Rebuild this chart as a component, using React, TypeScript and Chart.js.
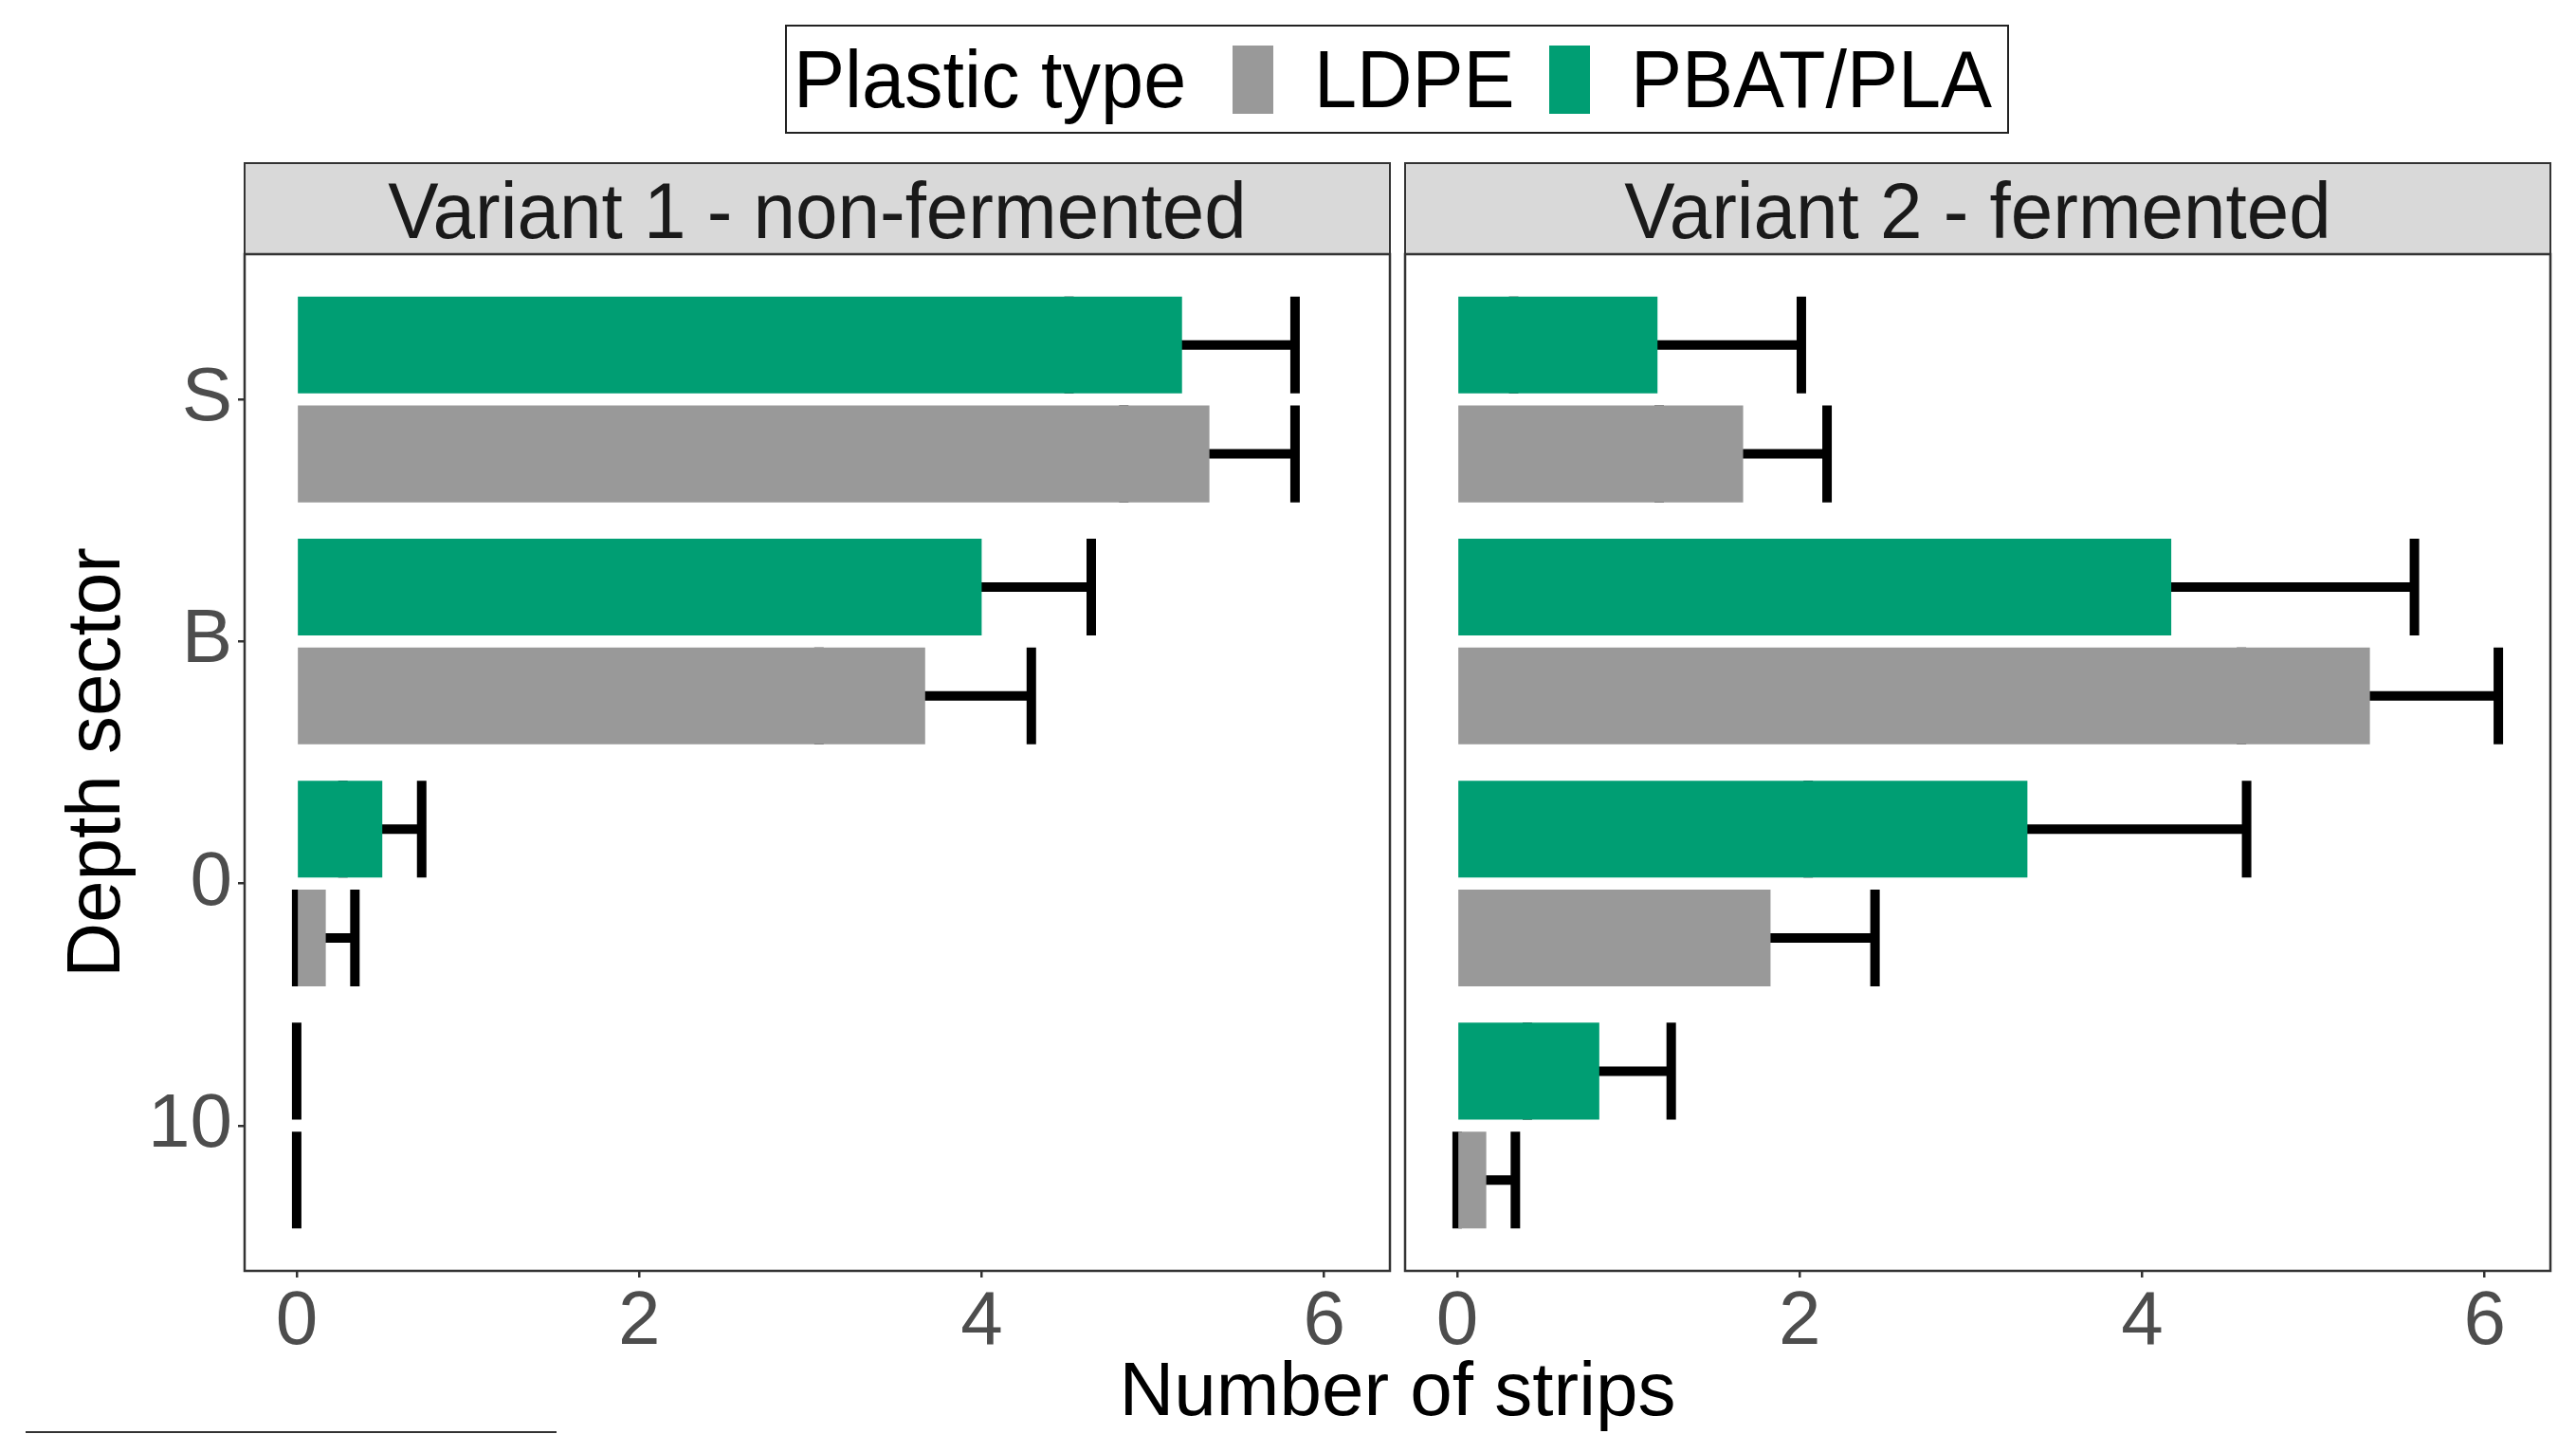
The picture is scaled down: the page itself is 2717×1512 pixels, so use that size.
import React, { useEffect, useRef } from "react";
import { Chart, registerables } from "chart.js";

Chart.register(...registerables);

// ---------- data ----------
const depthSectors = ["S", "B", "0", "10"];
const xTickValues = [0, 2, 4, 6];
const xMin = -0.304;
const xMax = 6.384;

const panelTitles = ["Variant 1 - non-fermented", "Variant 2 - fermented"];
const plasticTypes = ["LDPE", "PBAT/PLA"];

// Variant 1 - non-fermented
const v1PbatMean = [5.17, 4.0, 0.5, 0];
const v1PbatSe = [0.66, 0.64, 0.23, 0];
const v1LdpeMean = [5.33, 3.67, 0.17, 0];
const v1LdpeSe = [0.5, 0.62, 0.17, 0];

// Variant 2 - fermented
const v2PbatMean = [1.17, 4.17, 3.33, 0.83];
const v2PbatSe = [0.84, 1.42, 1.28, 0.42];
const v2LdpeMean = [1.67, 5.33, 1.83, 0.17];
const v2LdpeSe = [0.49, 0.75, 0.61, 0.17];

// ---------- style ----------
const GREEN = "#009E73";
const GRAY = "#999999";
const FONT = "'Liberation Sans', Arial, Helvetica, sans-serif";
const W = 2717;
const H = 1512;
const PLOT_TOP = 268;
const PLOT_BOTTOM = 1340;
const P1 = { left: 258, right: 1466 };
const P2 = { left: 1482, right: 2690 };
const SPLIT = 1474;

Chart.defaults.font.family = FONT;

const errorBarPlugin = {
  id: "errorBars",
  beforeDatasetsDraw(chart: any) {
    const ctx = chart.ctx;
    const xs = chart.scales.x;
    ctx.save();
    ctx.strokeStyle = "#000000";
    ctx.lineWidth = 10;
    ctx.lineCap = "butt";
    chart.data.datasets.forEach((ds: any, i: number) => {
      const meta = chart.getDatasetMeta(i);
      meta.data.forEach((bar: any, j: number) => {
        const p = bar.getProps(["y", "height"], true);
        const m = ds.data[j].x;
        const s = ds.se[j];
        const lo = xs.getPixelForValue(m - s);
        const hi = xs.getPixelForValue(m + s);
        const h2 = p.height / 2;
        ctx.beginPath();
        ctx.moveTo(lo, p.y);
        ctx.lineTo(hi, p.y);
        ctx.moveTo(lo, p.y - h2);
        ctx.lineTo(lo, p.y + h2);
        ctx.moveTo(hi, p.y - h2);
        ctx.lineTo(hi, p.y + h2);
        ctx.stroke();
      });
    });
    ctx.restore();
  },
};

const borderPlugin = {
  id: "panelBorder",
  afterDraw(chart: any) {
    const { ctx, chartArea: a } = chart;
    ctx.save();
    ctx.strokeStyle = "#333333";
    ctx.lineWidth = 2.5;
    ctx.strokeRect(a.left, a.top, a.right - a.left, a.bottom - a.top);
    ctx.restore();
  },
};

type PanelProps = {
  pbat: number[];
  pbatSe: number[];
  ldpe: number[];
  ldpeSe: number[];
  showY: boolean;
  left: number;
  width: number;
  padLeft: number;
  padRight: number;
};

function Panel(props: PanelProps) {
  const ref = useRef<HTMLCanvasElement>(null);
  useEffect(() => {
    if (!ref.current) return;
    const toPts = (arr: number[]) => arr.map((v, i) => ({ x: v, y: i }));
    const chart = new Chart(ref.current, {
      type: "bar",
      data: {
        datasets: [
          {
            label: plasticTypes[1],
            data: toPts(props.pbat),
            se: props.pbatSe,
            backgroundColor: GREEN,
            borderWidth: 0,
          } as any,
          {
            label: plasticTypes[0],
            data: toPts(props.ldpe),
            se: props.ldpeSe,
            backgroundColor: GRAY,
            borderWidth: 0,
          } as any,
        ],
      },
      options: {
        indexAxis: "y",
        responsive: false,
        animation: false,
        events: [],
        categoryPercentage: 0.9,
        barPercentage: 0.889,
        layout: {
          padding: { top: PLOT_TOP, bottom: 0, left: props.padLeft, right: props.padRight },
        },
        plugins: {
          legend: { display: false },
          tooltip: { enabled: false },
          title: { display: false },
        },
        scales: {
          x: {
            type: "linear",
            min: xMin,
            max: xMax,
            offset: false,
            afterFit: (s: any) => {
              s.height = H - PLOT_BOTTOM;
            },
            afterBuildTicks: (s: any) => {
              s.ticks = xTickValues.map((v) => ({ value: v }));
            },
            border: { display: false },
            grid: {
              display: true,
              drawOnChartArea: false,
              drawTicks: true,
              tickLength: 7,
              color: "#333333",
              lineWidth: 2.5,
              offset: false,
            },
            ticks: {
              color: "#4d4d4d",
              font: { size: 80, family: FONT },
              padding: 0,
              autoSkip: false,
              maxRotation: 0,
              callback: (v: any) => String(v),
            },
          },
          y: {
            type: "linear",
            display: props.showY,
            min: -0.6,
            max: 3.6,
            reverse: true,
            offset: false,
            afterFit: (s: any) => {
              s.width = props.showY ? P1.left : 0;
            },
            afterBuildTicks: (s: any) => {
              s.ticks = depthSectors.map((_, i) => ({ value: i }));
            },
            border: { display: false },
            grid: {
              display: true,
              drawOnChartArea: false,
              drawTicks: true,
              tickLength: 7,
              color: "#333333",
              lineWidth: 2.5,
              offset: false,
            },
            ticks: {
              color: "#4d4d4d",
              font: { size: 80, family: FONT },
              padding: 6,
              autoSkip: false,
              callback: (v: any) => depthSectors[v as number] ?? "",
            },
            title: {
              display: true,
              text: "Depth sector",
              color: "#000000",
              font: { size: 80, family: FONT },
              padding: { top: 56, bottom: 0 },
            },
          },
        },
      } as any,
      plugins: [errorBarPlugin, borderPlugin],
    });
    return () => chart.destroy();
  }, []);
  return (
    <canvas
      ref={ref}
      width={props.width}
      height={H}
      style={{ position: "absolute", left: props.left, top: 0, width: props.width, height: H }}
    />
  );
}

function Txt(p: { left: number; top: number; size: number; text: string; color?: string; width?: number; center?: boolean; sy?: number }) {
  return (
    <div
      style={{
        position: "absolute",
        left: p.left,
        top: p.top,
        width: p.width,
        textAlign: p.center ? "center" : "left",
        fontFamily: FONT,
        fontSize: p.size,
        lineHeight: `${p.size}px`,
        whiteSpace: "nowrap",
        color: p.color ?? "#000",
        transform: p.sy ? `scaleY(${p.sy})` : undefined,
        transformOrigin: "50% 85%",
      }}
    >
      {p.text}
    </div>
  );
}

export default function App() {
  useEffect(() => {
    document.body.style.margin = "0";
  }, []);
  const strip = (panel: { left: number; right: number }, title: string) => (
    <>
      <div
        style={{
          position: "absolute",
          left: panel.left - 1,
          top: 171,
          width: panel.right - panel.left + 2,
          height: PLOT_TOP - 171 + 1,
          background: "#d9d9d9",
          border: "2.5px solid #333333",
          boxSizing: "border-box",
        }}
      />
      <Txt left={panel.left} width={panel.right - panel.left} center top={184} size={80} sy={1.05} text={title} color="#1a1a1a" />
    </>
  );
  return (
    <div style={{ position: "absolute", left: 0, top: 0, width: W, height: H, background: "#ffffff", overflow: "hidden" }}>
      {/* legend */}
      <div
        style={{
          position: "absolute",
          left: 828,
          top: 26,
          width: 1291,
          height: 115,
          border: "2.5px solid #222",
          boxSizing: "border-box",
        }}
      />
      <Txt left={837} top={45} size={81} sy={1.06} text="Plastic type" />
      <div style={{ position: "absolute", left: 1300, top: 48, width: 43, height: 72, background: GRAY }} />
      <Txt left={1386} top={45} size={81} sy={1.06} text={plasticTypes[0]} />
      <div style={{ position: "absolute", left: 1634, top: 48, width: 43, height: 72, background: GREEN }} />
      <Txt left={1720} top={45} size={81} sy={1.06} text={plasticTypes[1]} />

      {strip(P1, panelTitles[0])}
      {strip(P2, panelTitles[1])}

      <Panel pbat={v1PbatMean} pbatSe={v1PbatSe} ldpe={v1LdpeMean} ldpeSe={v1LdpeSe} showY={true} left={0} width={SPLIT} padLeft={0} padRight={SPLIT - P1.right} />
      <Panel pbat={v2PbatMean} pbatSe={v2PbatSe} ldpe={v2LdpeMean} ldpeSe={v2LdpeSe} showY={false} left={SPLIT} width={W - SPLIT} padLeft={P2.left - SPLIT} padRight={W - P2.right} />

      <Txt left={P1.left} width={P2.right - P1.left} center top={1425} size={80} text="Number of strips" />

      <div style={{ position: "absolute", left: 27, top: 1509, width: 560, height: 2, background: "#333" }} />
    </div>
  );
}
